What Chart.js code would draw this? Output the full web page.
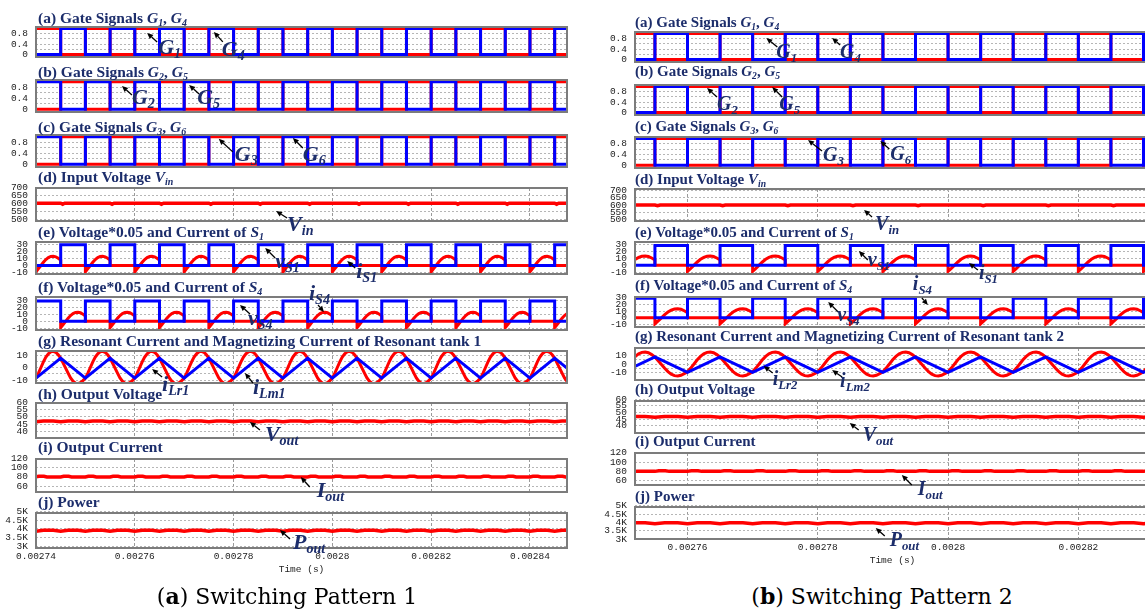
<!DOCTYPE html>
<html>
<head>
<meta charset="utf-8">
<title>Three-phase LLC converter waveforms</title>
<script src="https://cdn.jsdelivr.net/npm/chart.js@4.4.1/dist/chart.umd.min.js"></script>
<style>
  html, body { margin: 0; padding: 0; background: #fff; }
  body { position: relative; width: 1145px; height: 611px; overflow: hidden; }
  .panel { position: absolute; }
  .ttl { position: absolute; white-space: nowrap; font-family: "Liberation Serif", serif; font-weight: bold; color: #1c2d6b; line-height: 1; z-index: 3; }
  .an { position: absolute; white-space: nowrap; font-family: "Liberation Serif", serif; font-weight: bold; font-style: italic; color: #1c2d6b; line-height: 1; z-index: 4; }
  .ttl sub, .an sub { font-size: 0.64em; vertical-align: -0.28em; line-height: 0; }
  .cap { position: absolute; white-space: nowrap; font-family: "DejaVu Serif", serif; color: #000; line-height: 1; transform: translateX(-50%); z-index: 3; }
</style>
</head>
<body>
<script>
const RED = '#ff0000';
const BLUE = '#0000ff';
const TICK_COLOR = '#222222';
const TICK_FONT = { family: '"Liberation Mono", monospace', size: 9.5, lineHeight: '10px' };

// ---------------- time windows (µs) and x tick labels (s) ----------------
const winL = [2740, 2847.5];
const winR = [2751.94, 2831.0];
const xTicksL = [2740, 2760, 2780, 2800, 2820, 2840];
const xLabelsL = ['0.00274', '0.00276', '0.00278', '0.0028', '0.00282', '0.00284'];
const xTicksR = [2760, 2780, 2800, 2820];
const xLabelsR = ['0.00276', '0.00278', '0.0028', '0.00282'];

// switching instants (every half period, 5 µs)
const edgesL = [2740, 2745, 2750, 2755, 2760, 2765, 2770, 2775, 2780, 2785, 2790, 2795, 2800, 2805, 2810, 2815, 2820, 2825, 2830, 2835, 2840, 2845];
const edgesR = [2750, 2755, 2760, 2765, 2770, 2775, 2780, 2785, 2790, 2795, 2800, 2805, 2810, 2815, 2820, 2825, 2830];
// start of each switching period (G1 turn-on)
const periodsL = [2740, 2750, 2760, 2770, 2780, 2790, 2800, 2810, 2820, 2830, 2840, 2850];
const periodsR = [2750, 2760, 2770, 2780, 2790, 2800, 2810, 2820, 2830, 2840];

// ---------------- gate signals, one level per half period ----------------
const g1L = [1,0,1,0,1,0,1,0,1,0,1,0,1,0,1,0,1,0,1,0,1,0];
const g4L = [0,1,0,1,0,1,0,1,0,1,0,1,0,1,0,1,0,1,0,1,0,1];
const g2L = [0,1,0,1,0,1,0,1,0,1,0,1,0,1,0,1,0,1,0,1,0,1];
const g5L = [1,0,1,0,1,0,1,0,1,0,1,0,1,0,1,0,1,0,1,0,1,0];
const g3L = [0,1,0,1,0,1,0,1,0,1,0,1,0,1,0,1,0,1,0,1,0,1];
const g6L = [1,0,1,0,1,0,1,0,1,0,1,0,1,0,1,0,1,0,1,0,1,0];

const g1R = [1,0,1,0,1,0,1,0,1,0,1,0,1,0,1,0,1];
const g4R = [0,1,0,1,0,1,0,1,0,1,0,1,0,1,0,1,0];
const g2R = [1,0,1,0,1,0,1,0,1,0,1,0,1,0,1,0,1];
const g5R = [0,1,0,1,0,1,0,1,0,1,0,1,0,1,0,1,0];
const g3R = [0,1,0,1,0,1,0,1,0,1,0,1,0,1,0,1,0];
const g6R = [1,0,1,0,1,0,1,0,1,0,1,0,1,0,1,0,1];

// switch voltages (x0.05), one level per half period
const vS1L = [0,29,0,29,0,29,0,29,0,29,0,29,0,29,0,29,0,29,0,29,0,29];
const vS4L = [29,0,29,0,29,0,29,0,29,0,29,0,29,0,29,0,29,0,29,0,29,0];
const vS1R = [0,29,0,29,0,29,0,29,0,29,0,29,0,29,0,29,0];
const vS4R = [29,0,29,0,29,0,29,0,29,0,29,0,29,0,29,0,29];

// ---------------- one switching period of the tank currents ----------------
const iLrT = [0, 0.5, 1, 1.5, 2, 2.5, 3, 3.5, 4, 4.5, 5, 5.5, 6, 6.5, 7, 7.5, 8, 8.5, 9, 9.5, 10];
const iLrL = [-8.5, -4.5, 0, 4.5, 8.3, 11, 12.6, 13, 12.2, 10.2, 7.5, 3.5, -0.5, -4.5, -8.3, -11, -12.6, -13, -12.2, -10.5, -8.5];
const iLrR = [-8.8, -4.6, 0, 4.7, 8.6, 11.4, 13.1, 13.5, 12.7, 10.6, 7.8, 3.6, -0.5, -4.7, -8.6, -11.4, -13.1, -13.5, -12.7, -10.9, -8.8];
const iLmT = [0, 5];
const iLmL = [-8.5, 7.5];
const iLmR = [-9.5, 8];
// switch current while conducting (half period), zero otherwise
const iSwT = [0, 0, 0.5, 1, 1.5, 2, 2.5, 3, 3.5, 4, 4.5, 5, 5];
const iSwL = [0, -9, -4.5, 0, 4.5, 8.3, 11, 12.6, 13, 12.2, 10.2, 7.5, 0];
const iSwR = [0, -9, -4.6, 0, 4.7, 8.6, 11.4, 13.1, 13.5, 12.7, 10.6, 7.8, 0];

// ---------------- dc quantities with their small switching ripple ----------------
const vinT = [0, 5, 5.4, 5.8, 10];
const vinL = [600, 600, 594, 600, 600];
const vinR = [600, 600, 595, 600, 600];
const voutT = [0, 1.5, 3.5, 5];
const voutL = [46.8, 47.3, 47.3, 46.8];
const voutR = [46.3, 46.8, 46.8, 46.3];
const ioutT = [0, 0.6, 1.6, 2.2, 5];
const ioutL = [80, 81.5, 81.5, 80, 80];
const ioutR = [80, 81.5, 81.5, 80, 80];
const poutT = [0, 1.5, 3.5, 5];
const poutL = [3870, 3920, 3920, 3870];
const poutR = [3930, 3980, 3980, 3930];

// ---------------- y ticks ----------------
const gateTicks = [0, 0.2, 0.4, 0.6, 0.8];
const gateLabels = ['0', '', '0.4', '', '0.8'];
const vinTicks = [500, 550, 600, 650, 700];
const vinLabels = ['500', '550', '600', '650', '700'];
const swTicks = [-10, 0, 10, 20, 30];
const swLabels = ['-10', '0', '10', '20', '30'];
const resTicks = [-10, -5, 0, 5, 10];
const resLabels = ['-10', '', '0', '', '10'];
const voTicks = [40, 45, 50, 55, 60];
const voLabels = ['40', '45', '50', '55', '60'];
const ioTicks = [60, 80, 100, 120];
const ioLabels = ['60', '80', '100', '120'];
const poTicks = [3000, 3500, 4000, 4500, 5000];
const poLabels = ['3K', '3.5K', '4K', '4.5K', '5K'];

// ---------------- helpers ----------------
function steps(edges, levels, end) {
  const pts = edges.map((t, i) => ({ x: t, y: levels[i] }));
  pts.push({ x: end, y: levels[levels.length - 1] });
  return pts;
}
function tile(starts, offs, vals) {
  const pts = [];
  starts.forEach(s => offs.forEach((o, i) => pts.push({ x: s + o, y: vals[i] })));
  return pts;
}
const shift = (arr, d) => arr.map(v => v + d);
const sq = (data, color) => ({ data, color, width: 3, stepped: true });
const ln = (data, color, width) => ({ data, color, width: width || 3, stepped: false });

const G = n => `<i>G<sub>${n}</sub></i>`;
const sym = (a, s) => `<i>${a}<sub>${s}</sub></i>`;

// plot frame and callout arrows
const framePlugin = {
  id: 'frame',
  afterDatasetsDraw(chart) {
    const { ctx, chartArea: a, scales } = chart;
    ctx.save();
    ctx.strokeStyle = '#7c7c7c';
    ctx.lineWidth = 2;
    ctx.strokeRect(a.left, a.top, a.right - a.left, a.bottom - a.top);
    ctx.strokeStyle = '#000';
    ctx.fillStyle = '#000';
    ctx.lineWidth = 1.3;
    (chart.canvas._annos || []).forEach(n => {
      const hx = scales.x.getPixelForValue(n.t), hy = scales.y.getPixelForValue(n.v);
      const tx = hx + n.tx, ty = hy + n.ty;
      const ang = Math.atan2(hy - ty, hx - tx);
      const L = 6, W = 2.7;
      const bx = hx - L * Math.cos(ang), by = hy - L * Math.sin(ang);
      ctx.beginPath(); ctx.moveTo(tx, ty); ctx.lineTo(bx, by); ctx.stroke();
      ctx.beginPath(); ctx.moveTo(hx, hy);
      ctx.lineTo(bx + W * Math.sin(ang), by - W * Math.cos(ang));
      ctx.lineTo(bx - W * Math.sin(ang), by + W * Math.cos(ang));
      ctx.closePath(); ctx.fill();
    });
    ctx.restore();
  }
};

function makeConfig(p, col) {
  return {
    type: 'line',
    data: {
      datasets: p.series.map(s => ({
        data: s.data, borderColor: s.color, borderWidth: s.width, pointRadius: 0,
        stepped: s.stepped ? true : false, tension: 0, fill: false,
        borderJoinStyle: 'miter', borderCapStyle: 'butt'
      }))
    },
    options: {
      responsive: false, maintainAspectRatio: false, animation: false, events: [], parsing: false,
      layout: { padding: { top: 6, bottom: 6, left: 0, right: 2 } },
      plugins: { legend: { display: false }, tooltip: { enabled: false } },
      scales: {
        x: {
          type: 'linear', min: col.win[0], max: col.win[1],
          afterBuildTicks: sc => { sc.ticks = col.xTicks.map(v => ({ value: v })); },
          ticks: { display: !!p.last, autoSkip: false, maxRotation: 0, padding: 3, color: TICK_COLOR, font: TICK_FONT,
                   callback: (v, i) => col.xLabels[i] },
          grid: { color: '#9a9a9a', lineWidth: 1, drawTicks: false },
          border: { display: false, dash: [3, 2] },
          title: { display: !!p.last, text: 'Time (s)', color: TICK_COLOR, font: TICK_FONT, padding: { top: 0, bottom: 0 } }
        },
        y: {
          type: 'linear', min: p.yr[0], max: p.yr[1],
          afterBuildTicks: sc => { sc.ticks = p.yt.map(v => ({ value: v })); },
          afterFit: sc => { sc.width = 36; },
          ticks: { autoSkip: false, padding: 8, color: TICK_COLOR, font: TICK_FONT, callback: (v, i) => p.yl[i] },
          grid: { color: '#b6b6b6', lineWidth: 1, drawTicks: false },
          border: { display: false, dash: [2, 2] }
        }
      }
    },
    plugins: [framePlugin]
  };
}

function addDiv(cls, html, left, top, size) {
  const d = document.createElement('div');
  d.className = cls;
  d.innerHTML = html;
  d.style.left = left + 'px';
  d.style.top = top + 'px';
  d.style.fontSize = size + 'px';
  document.body.appendChild(d);
  return d;
}

function buildPanel(p, col) {
  const [bx, by, bw, bh] = p.box;
  const wrap = document.createElement('div');
  wrap.className = 'panel';
  document.body.appendChild(wrap);
  let cv = document.createElement('canvas');
  wrap.appendChild(cv);
  let W = bw + 80, H = bh + 60;
  cv.width = W; cv.height = H; cv.style.width = W + 'px'; cv.style.height = H + 'px';
  let ch = new Chart(cv, makeConfig(p, col));
  const a = ch.chartArea;
  const mL = a.left, mT = a.top, mR = W - a.right, mB = H - a.bottom;
  ch.destroy();
  wrap.removeChild(cv);
  cv = document.createElement('canvas');
  wrap.appendChild(cv);
  W = Math.round(bw + mL + mR); H = Math.round(bh + mT + mB);
  cv.width = W; cv.height = H; cv.style.width = W + 'px'; cv.style.height = H + 'px';
  cv._annos = p.annos || [];
  ch = new Chart(cv, makeConfig(p, col));
  const ox = bx - ch.chartArea.left, oy = by - ch.chartArea.top;
  wrap.style.left = ox + 'px';
  wrap.style.top = oy + 'px';
  (p.annos || []).forEach(n => {
    const hx = ch.scales.x.getPixelForValue(n.t) + ox;
    const hy = ch.scales.y.getPixelForValue(n.v) + oy;
    addDiv('an', n.html, hx + n.lx, hy + n.ly, col.annoSize);
  });
  addDiv('ttl', p.title, col.titleX, p.tc - 0.6 * col.titleSize, col.titleSize);
}

// ---------------- switching pattern 1 ----------------
const colL = { win: winL, xTicks: xTicksL, xLabels: xLabelsL, titleX: 38, titleSize: 15.5, annoSize: 22 };
const panelsL = [
  { box: [36, 27, 531, 30], tc: 19.5, title: '(a) Gate Signals ' + G(1) + ', ' + G(4),
    yr: [-0.1, 1.06], yt: gateTicks, yl: gateLabels,
    series: [sq(steps(edgesL, g4L, winL[1]), BLUE), sq(steps(edgesL, g1L, winL[1]), RED)],
    annos: [{ t: 2762.5, v: 0.83, tx: 10, ty: 9, lx: 11, ly: 3, html: G(1) },
            { t: 2776.0, v: 0.87, tx: 9, ty: 10, lx: 8, ly: 6, html: G(4) }] },
  { box: [36, 80, 531, 32], tc: 73.3, title: '(b) Gate Signals ' + G(2) + ', ' + G(5),
    yr: [-0.1, 1.06], yt: gateTicks, yl: gateLabels,
    series: [sq(steps(edgesL, g5L, winL[1]), BLUE), sq(steps(edgesL, g2L, winL[1]), RED)],
    annos: [{ t: 2757.4, v: 0.84, tx: 10, ty: 9, lx: 10, ly: 0, html: G(2) },
            { t: 2771.0, v: 0.88, tx: 10, ty: 9, lx: 8, ly: 1, html: G(5) }] },
  { box: [36, 135, 531, 32], tc: 128.3, title: '(c) Gate Signals ' + G(3) + ', ' + G(6),
    yr: [-0.1, 1.06], yt: gateTicks, yl: gateLabels,
    series: [sq(steps(edgesL, g6L, winL[1]), BLUE), sq(steps(edgesL, g3L, winL[1]), RED)],
    annos: [{ t: 2777.0, v: 0.92, tx: 14, ty: 13, lx: 16, ly: 4, html: G(3) },
            { t: 2792.0, v: 0.95, tx: 10, ty: 10, lx: 10, ly: 5, html: G(6) }] },
  { box: [36, 188, 531, 33], tc: 178.3, title: '(d) Input Voltage ' + sym('V', 'in'),
    yr: [490, 695], yt: vinTicks, yl: vinLabels,
    series: [ln(tile(periodsL, vinT, vinL), RED, 3.5)],
    annos: [{ t: 2788.6, v: 552, tx: 11, ty: 7, lx: 11, ly: 2, html: sym('V', 'in') }] },
  { box: [36, 242, 531, 32], tc: 233.3, title: '(e) Voltage*0.05 and Current of ' + sym('S', '1'),
    yr: [-12, 33], yt: swTicks, yl: swLabels,
    series: [sq(steps(edgesL, vS1L, winL[1]), BLUE), ln(tile(periodsL, iSwT, iSwL), RED)],
    annos: [{ t: 2786.4, v: 24.6, tx: 10, ty: 10, lx: 10, ly: 2, html: sym('v', 'S1') },
            { t: 2803.0, v: 6.3, tx: 8, ty: 7, lx: 9, ly: -1, html: sym('i', 'S1') }] },
  { box: [36, 297, 531, 33], tc: 288.3, title: '(f) Voltage*0.05 and Current of ' + sym('S', '4'),
    yr: [-12.4, 34.7], yt: swTicks, yl: swLabels,
    series: [sq(steps(edgesL, vS4L, winL[1]), BLUE), ln(tile(shift(periodsL, 5), iSwT, iSwL), RED)],
    annos: [{ t: 2781.3, v: 23.3, tx: 10, ty: 9, lx: 8, ly: 2, html: sym('v', 'S4') },
            { t: 2798.3, v: 13.3, tx: -6, ty: -7, lx: -15, ly: -30, html: sym('i', 'S4') }] },
  { box: [36, 351, 531, 32], tc: 342, title: '(g) Resonant Current and Magnetizing Current of Resonant tank 1',
    yr: [-12.4, 13.2], yt: resTicks, yl: resLabels,
    series: [ln(tile(periodsL, iLmT, iLmL), BLUE), ln(tile(periodsL, iLrT, iLrL), RED)],
    annos: [{ t: 2763.5, v: -1.2, tx: 10, ty: 8, lx: 10, ly: 4, html: sym('i', 'Lr1') },
            { t: 2782.3, v: -4.4, tx: 8, ty: 10, lx: 8, ly: 3, html: sym('i', 'Lm1') }] },
  { box: [36, 403, 531, 35], tc: 395, title: '(h) Output Voltage',
    yr: [35.7, 59.5], yt: voTicks, yl: voLabels,
    series: [ln(tile(edgesL, voutT, voutL), RED, 3.5)],
    annos: [{ t: 2783.3, v: 46.6, tx: 10, ty: 8, lx: 15, ly: 1, html: sym('V', 'out') }] },
  { box: [36, 459, 531, 33], tc: 448.3, title: '(i) Output Current',
    yr: [47, 119], yt: ioTicks, yl: ioLabels,
    series: [ln(tile(edgesL, ioutT, ioutL), RED, 3.5)],
    annos: [{ t: 2793.6, v: 79.7, tx: 9, ty: 10, lx: 16, ly: 2, html: sym('I', 'out') }] },
  { box: [36, 513, 531, 35], tc: 503.3, title: '(j) Power', last: true,
    yr: [2890, 4925], yt: poTicks, yl: poLabels,
    series: [ln(tile(edgesL, poutT, poutL), RED, 3.5)],
    annos: [{ t: 2789.4, v: 3937, tx: 10, ty: 9, lx: 13, ly: 1, html: sym('P', 'out') }] }
];

// ---------------- switching pattern 2 ----------------
const colR = { win: winR, xTicks: xTicksR, xLabels: xLabelsR, titleX: 635, titleSize: 15, annoSize: 20 };
const panelsR = [
  { box: [635, 32, 515, 30], tc: 24.2, title: '(a) Gate Signals ' + G(1) + ', ' + G(4),
    yr: [-0.1, 1.06], yt: gateTicks, yl: gateLabels,
    series: [sq(steps(edgesR, g4R, winR[1]), BLUE), sq(steps(edgesR, g1R, winR[1]), RED)],
    annos: [{ t: 2772.1, v: 0.83, tx: 11, ty: 9, lx: 10, ly: 3, html: G(1) },
            { t: 2782.2, v: 0.83, tx: 8, ty: 7, lx: 8, ly: 3, html: G(4) }] },
  { box: [635, 85, 515, 30], tc: 73, title: '(b) Gate Signals ' + G(2) + ', ' + G(5),
    yr: [-0.1, 1.06], yt: gateTicks, yl: gateLabels,
    series: [sq(steps(edgesR, g5R, winR[1]), BLUE), sq(steps(edgesR, g2R, winR[1]), RED)],
    annos: [{ t: 2763.0, v: 0.94, tx: 10, ty: 9, lx: 10, ly: 5, html: G(2) },
            { t: 2773.0, v: 0.98, tx: 10, ty: 10, lx: 7, ly: 6, html: G(5) }] },
  { box: [635, 137, 515, 31], tc: 127.5, title: '(c) Gate Signals ' + G(3) + ', ' + G(6),
    yr: [-0.1, 1.06], yt: gateTicks, yl: gateLabels,
    series: [sq(steps(edgesR, g6R, winR[1]), BLUE), sq(steps(edgesR, g3R, winR[1]), RED)],
    annos: [{ t: 2778.5, v: 0.95, tx: 14, ty: 11, lx: 15, ly: 4, html: G(3) },
            { t: 2789.6, v: 0.91, tx: 9, ty: 8, lx: 10, ly: 2, html: G(6) }] },
  { box: [635, 189, 515, 32], tc: 180.5, title: '(d) Input Voltage ' + sym('V', 'in'),
    yr: [493, 707], yt: vinTicks, yl: vinLabels,
    series: [ln(tile(periodsR, vinT, vinR), RED, 3.5)],
    annos: [{ t: 2787.1, v: 567, tx: 8, ty: 7, lx: 11, ly: 3, html: sym('V', 'in') }] },
  { box: [635, 242, 515, 32], tc: 233.8, title: '(e) Voltage*0.05 and Current of ' + sym('S', '1'),
    yr: [-12.9, 34], yt: swTicks, yl: swLabels,
    series: [sq(steps(edgesR, vS1R, winR[1]), BLUE), ln(tile(periodsR, iSwT, iSwR), RED)],
    annos: [{ t: 2786.3, v: 20.8, tx: 9, ty: 9, lx: 9, ly: -2, html: sym('v', 'S1') },
            { t: 2803.2, v: 3.2, tx: 9, ty: 7, lx: 10, ly: -1, html: sym('i', 'S1') }] },
  { box: [635, 297, 515, 30], tc: 286.7, title: '(f) Voltage*0.05 and Current of ' + sym('S', '4'),
    yr: [-13.6, 31], yt: swTicks, yl: swLabels,
    series: [sq(steps(edgesR, vS4R, winR[1]), BLUE), ln(tile(shift(periodsR, -5), iSwT, iSwR), RED)],
    annos: [{ t: 2781.6, v: 23.6, tx: 10, ty: 10, lx: 9, ly: 2, html: sym('v', 'S4') },
            { t: 2796.9, v: 19.1, tx: -6, ty: -7, lx: -15, ly: -32, html: sym('i', 'S4') }] },
  { box: [635, 348, 515, 32], tc: 338.3, title: '(g) Resonant Current and Magnetizing Current of Resonant tank 2',
    yr: [-18, 18], yt: resTicks, yl: resLabels,
    series: [ln(tile(periodsR, iLmT, iLmR), BLUE), ln(tile(periodsR, iLrT, iLrR), RED)],
    annos: [{ t: 2771.7, v: -2.25, tx: 9, ty: 7, lx: 9, ly: 2, html: sym('i', 'Lr2') },
            { t: 2782.2, v: -6.75, tx: 10, ty: 7, lx: 8, ly: 0, html: sym('i', 'Lm2') }] },
  { box: [635, 401, 515, 32], tc: 390.8, title: '(h) Output Voltage',
    yr: [34.5, 58.5], yt: voTicks, yl: voLabels,
    series: [ln(tile(edgesR, voutT, voutR), RED, 3.5)],
    annos: [{ t: 2784.9, v: 42, tx: 9, ty: 7, lx: 13, ly: 1, html: sym('V', 'out') }] },
  { box: [635, 453, 515, 32], tc: 443.3, title: '(i) Output Current',
    yr: [50.7, 119.4], yt: ioTicks, yl: ioLabels,
    series: [ln(tile(edgesR, ioutT, ioutR), RED, 3.5)],
    annos: [{ t: 2792.9, v: 72.2, tx: 10, ty: 10, lx: 16, ly: 3, html: sym('I', 'out') }] },
  { box: [635, 507, 515, 32], tc: 497.5, title: '(j) Power', last: true,
    yr: [3018, 4923], yt: poTicks, yl: poLabels,
    series: [ln(tile(edgesR, poutT, poutR), RED, 3.5)],
    annos: [{ t: 2788.9, v: 3673, tx: 9, ty: 8, lx: 14, ly: 1, html: sym('P', 'out') }] }
];

panelsL.forEach(p => buildPanel(p, colL));
panelsR.forEach(p => buildPanel(p, colR));

// sub-figure captions
const capSize = 22;
addDiv('cap', '(<b>a</b>) Switching Pattern 1', 287, 598 - 0.6 * capSize, capSize);
addDiv('cap', '(<b>b</b>) Switching Pattern 2', 882, 598 - 0.6 * capSize, capSize);
</script>
</body>
</html>
